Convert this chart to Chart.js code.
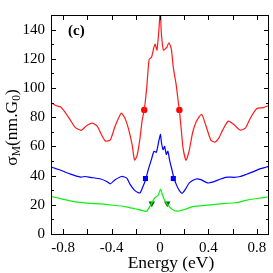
<!DOCTYPE html>
<html><head><meta charset="utf-8">
<script src="https://cdn.jsdelivr.net/npm/chart.js@4/dist/chart.umd.min.js"></script>
<style>html,body{margin:0;padding:0;background:#fff}#wrap{width:273px;height:273px}</style>
</head><body><div id="wrap"><canvas id="c" width="273" height="273"></canvas></div>
<script>
const redX = [-0.90,-0.86,-0.82,-0.78,-0.74,-0.70,-0.65,-0.61,-0.56,-0.52,-0.48,-0.45,-0.41,-0.37,-0.32,-0.29,-0.26,-0.23,-0.21,-0.19,-0.166,-0.147,-0.13,-0.11,-0.09,-0.07,-0.05,-0.04,-0.025,-0.008,0.003,0.01,0.028,0.057,0.073,0.093,0.11,0.134,0.153,0.16,0.175,0.19,0.215,0.24,0.27,0.30,0.343,0.38,0.42,0.455,0.49,0.515,0.563,0.61,0.66,0.705,0.75,0.80,0.855,0.90];
const redY = [90,88,87,83,78,73,71,74,76,74,67.5,63.6,64.5,74,82.7,79.4,72,61,50.6,53.5,65,78,85,100,119.5,121,128,130,126,141,155,139,126,128,131,127,114,102,89,85,72,59,50.6,56.7,69.7,77,82,74,64.3,63,66.4,70.8,77.3,75,71.2,72.5,80,86,86.6,88];
const blueX = [-0.90,-0.86,-0.82,-0.74,-0.655,-0.615,-0.574,-0.49,-0.44,-0.41,-0.37,-0.315,-0.274,-0.247,-0.207,-0.166,-0.144,-0.117,-0.098,-0.07,-0.049,-0.03,-0.011,0.004,0.011,0.025,0.038,0.052,0.065,0.08,0.093,0.112,0.134,0.16,0.183,0.21,0.242,0.297,0.338,0.392,0.433,0.50,0.555,0.61,0.664,0.72,0.773,0.83,0.88,0.90];
const blueY = [45.9,44.8,43.7,41,39,39.4,38.8,37.7,36,34.4,37.2,39.4,38.3,34,29.7,28.1,31.8,37.7,43.7,51.3,56.7,56,63.2,68.5,63.2,57.8,60,54.5,56.7,50.2,45.9,39.4,34,29.7,27.9,30.7,35,37.7,37.2,35,35.5,37.7,39,38.8,39.4,41.1,42.7,44.8,45.9,46.5];
const greenX = [-0.90,-0.82,-0.74,-0.655,-0.574,-0.49,-0.41,-0.29,-0.207,-0.152,-0.11,-0.07,-0.043,-0.016,0.005,0.03,0.06,0.10,0.14,0.21,0.27,0.35,0.48,0.62,0.72,0.80,0.88,0.90];
const greenY = [25.8,24.2,22.7,21.6,21,20.6,19.9,18.8,17.3,16.2,15.6,21,24.7,26.4,30.5,24.5,20.3,17,15.6,17,18.8,19.4,20.5,21.4,23.2,24.3,25.3,25.6];
const redMarkX = [-0.13, 0.16];   const redMarkY = [85, 85];
const blueMarkX = [-0.12, 0.11];  const blueMarkY = [38, 38];
const greenMarkX = [-0.068, 0.06]; const greenMarkY = [21, 21];
const xTickLabels = [-0.8, -0.4, 0, 0.4, 0.8];
const xTickMarks = [-0.8, -0.6, -0.4, -0.2, 0, 0.2, 0.4, 0.6, 0.8];
const yTickLabels = [0, 20, 40, 60, 80, 100, 120, 140];
const yTickMarks = [0,10,20,30,40,50,60,70,80,90,100,110,120,130,140];

const pts = (xs, ys) => xs.map((x, i) => ({x, y: ys[i]}));
const FONT = '"Liberation Serif", "Times New Roman", serif';

const deco = {
  id: 'deco',
  afterDraw(chart) {
    const {ctx, chartArea: a, scales: {x, y}} = chart;
    ctx.save();
    ctx.strokeStyle = '#000'; ctx.lineWidth = 1;
    ctx.strokeRect(a.left + 0.5, a.top + 0.5, a.right - a.left - 1, a.bottom - a.top);
    ctx.beginPath();
    xTickMarks.forEach(v => {
      const px = Math.round(x.getPixelForValue(v)) + 0.5;
      ctx.moveTo(px, a.bottom); ctx.lineTo(px, a.bottom - 5);
      ctx.moveTo(px, a.top); ctx.lineTo(px, a.top + 5);
    });
    yTickMarks.forEach(v => {
      const py = Math.round(y.getPixelForValue(v)) + 0.5;
      const L = yTickLabels.includes(v) ? 5 : 3;
      ctx.moveTo(a.left, py); ctx.lineTo(a.left + L, py);
      ctx.moveTo(a.right, py); ctx.lineTo(a.right - L, py);
    });
    ctx.stroke();
    ctx.fillStyle = '#000';
    ctx.font = 'bold 15px ' + FONT;
    ctx.textBaseline = 'middle'; ctx.textAlign = 'left';
    ctx.fillText('(c)', a.left + 17, a.top + 16);
    ctx.font = '17.5px ' + FONT;
    ctx.textAlign = 'center';
    ctx.fillText('Energy (eV)', 171, 263);
    ctx.translate(12, (a.top + a.bottom) / 2 + 3);
    ctx.rotate(-Math.PI / 2);
    const parts = [['σ', 17.5, 0], ['M', 11.5, 4.5], ['(nm.G', 17.5, 0], ['0', 11.5, 4.5], [')', 17.5, 0]];
    let total = 0;
    parts.forEach(p => { ctx.font = p[1] + 'px ' + FONT; total += ctx.measureText(p[0]).width; });
    let cx = -total / 2;
    ctx.textAlign = 'left';
    parts.forEach(p => {
      ctx.font = p[1] + 'px ' + FONT;
      ctx.fillText(p[0], cx, p[2]);
      cx += ctx.measureText(p[0]).width;
    });
    ctx.restore();
  }
};

new Chart(document.getElementById('c'), {
  type: 'scatter',
  data: {
    datasets: [
      {data: pts(redX, redY), showLine: true, borderColor: '#ff1a1a', borderWidth: 1.2, pointRadius: 0, tension: 0.2},
      {data: pts(blueX, blueY), showLine: true, borderColor: '#0000ff', borderWidth: 1.2, pointRadius: 0, tension: 0.2},
      {data: pts(greenX, greenY), showLine: true, borderColor: '#11ee11', borderWidth: 1.2, pointRadius: 0, tension: 0.2},
      {data: pts(redMarkX, redMarkY), showLine: false, pointStyle: 'circle', pointRadius: 3.2, backgroundColor: '#ff0000', borderColor: '#ff0000', borderWidth: 0},
      {data: pts(blueMarkX, blueMarkY), showLine: false, pointStyle: 'rect', pointRadius: 3.6, backgroundColor: '#0000ff', borderColor: '#0000ff', borderWidth: 0},
      {data: pts(greenMarkX, greenMarkY), showLine: false, pointStyle: 'triangle', rotation: 180, pointRadius: 3.8, backgroundColor: '#006400', borderColor: '#006400', borderWidth: 0}
    ]
  },
  options: {
    responsive: false, animation: false, events: [],
    layout: {padding: {top: 3, right: 3, left: 0, bottom: 0}},
    plugins: {legend: {display: false}, tooltip: {enabled: false}},
    scales: {
      x: {
        type: 'linear', min: -0.9, max: 0.9,
        afterBuildTicks: s => { s.ticks = xTickLabels.map(v => ({value: v})); },
        afterFit: s => { s.height = 39; },
        grid: {display: false, drawTicks: false},
        border: {display: false},
        ticks: {font: {family: FONT, size: 15}, color: '#000', padding: 5, maxRotation: 0,
                callback: v => String(v)}
      },
      y: {
        type: 'linear', min: 0, max: 150,
        afterBuildTicks: s => { s.ticks = yTickLabels.map(v => ({value: v})); },
        afterFit: s => { s.width = 51; },
        grid: {display: false, drawTicks: false},
        border: {display: false},
        ticks: {font: {family: FONT, size: 15}, color: '#000', padding: 6}
      }
    }
  },
  plugins: [deco]
});
</script></body></html>
